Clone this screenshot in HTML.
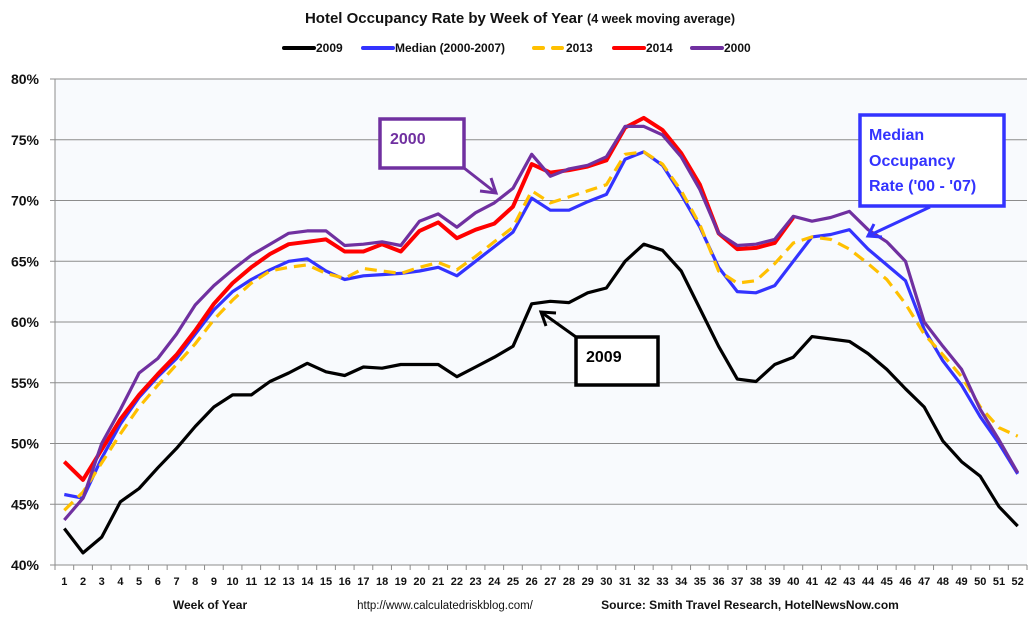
<!DOCTYPE html>
<html><head><meta charset="utf-8"><style>
html,body{margin:0;padding:0;background:#fff;}
svg{display:block;font-family:"Liberation Sans",sans-serif;}
</style></head><body>
<svg id="chart" width="1036" height="622" viewBox="0 0 1036 622" xmlns="http://www.w3.org/2000/svg">
<text x="520" y="23" text-anchor="middle" font-size="15" font-weight="bold" fill="#111">Hotel Occupancy Rate by  Week of Year <tspan font-size="12.5">(4 week moving average)</tspan></text>
<g id="legend" font-size="12" font-weight="bold" fill="#111"></g>
<rect x="55" y="79" width="972" height="486" fill="#f8fafd"/>
<g id="grid"></g><g id="xaxis"></g><g id="yaxis"></g><g id="series"></g>
<g>
<rect x="380" y="119" width="84" height="49" fill="#fff" stroke="#7030a0" stroke-width="3.5"/>
<text x="390" y="144" font-size="16" font-weight="bold" fill="#7030a0">2000</text>
<line x1="464" y1="168" x2="496" y2="193" stroke="#7030a0" stroke-width="3"/>
<polyline points="480,191 496,193 491,178" fill="none" stroke="#7030a0" stroke-width="3"/>
</g>
<g>
<rect x="576" y="337" width="82" height="48" fill="#fff" stroke="#000" stroke-width="3.5"/>
<text x="586" y="362" font-size="16" font-weight="bold" fill="#000">2009</text>
<line x1="576" y1="337" x2="541" y2="312" stroke="#000" stroke-width="3"/>
<polyline points="556,313 541,312 546,326" fill="none" stroke="#000" stroke-width="3"/>
</g>
<g>
<rect x="860" y="115" width="144" height="91" fill="#fff" stroke="#3333ff" stroke-width="3.5"/>
<text font-size="16" font-weight="bold" fill="#3333ff"><tspan x="869" y="140">Median</tspan><tspan x="869" y="166">Occupancy</tspan><tspan x="869" y="191">Rate ('00 - '07)</tspan></text>
<line x1="930" y1="207" x2="868" y2="236" stroke="#3333ff" stroke-width="3"/>
<polyline points="874,224 868,236 882,237" fill="none" stroke="#3333ff" stroke-width="3"/>
</g>
<text x="210" y="609" text-anchor="middle" font-size="12" font-weight="bold" fill="#111">Week of Year</text>
<text x="445" y="609" text-anchor="middle" font-size="11.5" fill="#111">http://www.calculatedriskblog.com/</text>
<text x="750" y="609" text-anchor="middle" font-size="12" font-weight="bold" fill="#111">Source: Smith Travel Research, HotelNewsNow.com</text>
</svg>
<script>
const weeks = Array.from({length:52},(_,i)=>i+1);
const yTicks = [40,45,50,55,60,65,70,75,80];
const s2009 = [43.0,41.0,42.3,45.2,46.3,48.0,49.6,51.4,53.0,54.0,54.0,55.1,55.8,56.6,55.9,55.6,56.3,56.2,56.5,56.5,56.5,55.5,56.3,57.1,58.0,61.5,61.7,61.6,62.4,62.8,65.0,66.4,65.9,64.2,61.1,58.0,55.3,55.1,56.5,57.1,58.8,58.6,58.4,57.4,56.1,54.5,53.0,50.2,48.5,47.3,44.8,43.2];
const sMedian = [45.8,45.5,48.8,51.6,53.8,55.5,57.0,59.0,61.0,62.5,63.5,64.3,65.0,65.2,64.2,63.5,63.8,63.9,64.0,64.2,64.5,63.8,65.0,66.2,67.4,70.2,69.2,69.2,69.9,70.5,73.4,74.0,72.9,70.5,67.8,64.5,62.5,62.4,63.0,65.0,67.0,67.2,67.6,66.0,64.7,63.4,59.4,56.8,54.8,52.2,50.0,47.5];
const s2013 = [44.5,46.0,48.4,50.8,53.0,54.8,56.5,58.2,60.2,61.8,63.2,64.2,64.5,64.7,64.0,63.6,64.4,64.2,64.0,64.5,64.9,64.3,65.4,66.6,67.8,70.8,69.8,70.3,70.8,71.3,73.8,74.0,73.0,70.8,68.0,64.2,63.2,63.4,64.8,66.5,67.0,66.8,66.0,64.8,63.5,61.5,59.0,57.3,55.5,53.0,51.3,50.6];
const s2014 = [48.5,47.0,49.5,52.0,54.0,55.7,57.3,59.3,61.5,63.2,64.5,65.6,66.4,66.6,66.8,65.8,65.8,66.4,65.8,67.5,68.2,66.9,67.6,68.1,69.5,73.0,72.3,72.5,72.8,73.3,76.0,76.8,75.8,73.9,71.3,67.3,66.0,66.1,66.5,68.6];
const s2000 = [43.7,45.5,50.0,52.8,55.8,57.0,59.0,61.4,63.0,64.3,65.5,66.4,67.3,67.5,67.5,66.3,66.4,66.6,66.3,68.3,68.9,67.8,69.0,69.8,71.0,73.8,72.0,72.6,72.9,73.6,76.1,76.1,75.4,73.6,70.9,67.3,66.3,66.4,66.8,68.7,68.3,68.6,69.1,67.6,66.6,65.0,60.0,58.0,56.1,52.8,50.3,47.6];
const seriesNames = ["2009","Median (2000-2007)","2013","2014","2000"];

const NS="http://www.w3.org/2000/svg";
const L=55,R=1027,T=79,B=565;
const step=(R-L)/weeks.length;
const xOf=w=>L+step*(w-0.5);
const yOf=v=>B-(v-40)/40*(B-T);
function mk(tag,attrs,parent){const e=document.createElementNS(NS,tag);for(const k in attrs)e.setAttribute(k,attrs[k]);parent.appendChild(e);return e;}
const grid=document.getElementById('grid'),xa=document.getElementById('xaxis'),ya=document.getElementById('yaxis'),sg=document.getElementById('series'),lg=document.getElementById('legend');
yTicks.forEach(t=>{
  const ln=mk('line',{x1:L,x2:R,y1:yOf(t),y2:yOf(t),stroke:'#8c8c8c','stroke-width':1},grid);
  
  
  mk('line',{x1:L-5,x2:L,y1:yOf(t),y2:yOf(t),stroke:'#8c8c8c'},ya);
  const tx=mk('text',{x:L-16,y:yOf(t)+5,'text-anchor':'end','font-size':14,'font-weight':'bold',fill:'#111'},ya);
  tx.textContent=t+'%';
  
  
});
mk('line',{x1:L,x2:L,y1:T,y2:B,stroke:'#8c8c8c'},ya);
mk('line',{x1:L,x2:R,y1:B,y2:B,stroke:'#8c8c8c'},xa);
weeks.forEach((w,i)=>{
  mk('line',{x1:L+step*i,x2:L+step*i,y1:B,y2:B+5,stroke:'#8c8c8c'},xa);
  const tx=mk('text',{x:xOf(w),y:B+20,'text-anchor':'middle','font-size':11,'font-weight':'bold',fill:'#111'},xa);
  tx.textContent=w;
  
  
});
mk('line',{x1:R,x2:R,y1:B,y2:B+5,stroke:'#8c8c8c'},xa);
const defs=[[s2009,'#000',null,'series-2009'],[sMedian,'#3333ff',null,'series-median'],[s2013,'#ffc000','12 7','series-2013'],[s2014,'#ff0000',null,'series-2014'],[s2000,'#7030a0',null,'series-2000']];
defs.forEach(([d,c,dash,name])=>{
  const pts=d.map((v,i)=>xOf(weeks[i]).toFixed(1)+','+yOf(v).toFixed(1)).join(' ');
  const a={points:pts,fill:'none',stroke:c,'stroke-width':name==='series-2014'?4:3.2,'stroke-linejoin':'round'};
  if(dash)a['stroke-dasharray']=dash;
  const p=mk('polyline',a,sg);
  
  
});
const lx=[284,363,534,614,692];
defs.forEach((d,i)=>{
  const a={x1:lx[i],x2:lx[i]+30,y1:48,y2:48,stroke:d[1],'stroke-width':4,'stroke-linecap':'round'};
  if(d[2])a['stroke-dasharray']='9 10';
  const ln=mk('line',a,lg);
  
  
  const tx=mk('text',{x:lx[i]+32,y:52},lg);
  tx.textContent=seriesNames[i];
});
</script>
</body></html>
